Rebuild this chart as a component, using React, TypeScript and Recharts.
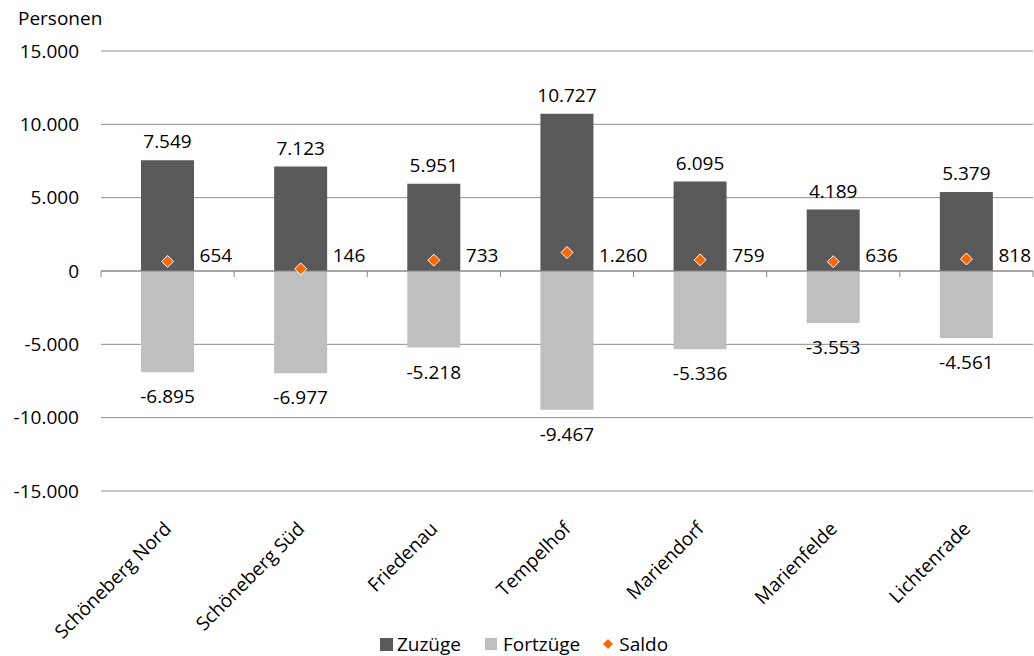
import React from 'react';
import {
  ComposedChart,
  Bar,
  Line,
  XAxis,
  YAxis,
  CartesianGrid,
  ReferenceLine,
  Legend,
  LabelList,
} from 'recharts';

// Wanderungen je Prognoseraum (Personen)
const districts = [
  'Schöneberg Nord',
  'Schöneberg Süd',
  'Friedenau',
  'Tempelhof',
  'Mariendorf',
  'Marienfelde',
  'Lichtenrade',
];
const zuzuege = [7549, 7123, 5951, 10727, 6095, 4189, 5379];
const fortzuege = [-6895, -6977, -5218, -9467, -5336, -3553, -4561];
const saldo = [654, 146, 733, 1260, 759, 636, 818];
const yTicks = [-15000, -10000, -5000, 0, 5000, 10000, 15000];

const data = districts.map((name, i) => ({
  name,
  zuzuege: zuzuege[i],
  fortzuege: fortzuege[i],
  saldo: saldo[i],
}));

const WIDTH = 1034;
const HEIGHT = 656;
const PLOT_TOP = 51;
const PLOT_HEIGHT = 440;
const Y_MIN = -15000;
const Y_MAX = 15000;
const FONT = "'Open Sans', 'Noto Sans', sans-serif";
const FONT_SIZE = 19;
const TEXT = '#000000';

const DARK = '#595959';
const LIGHT = '#bfbfbf';
const ORANGE = '#ff6600';

const fmt = (v: number) => {
  const s = Math.abs(Math.round(v))
    .toString()
    .replace(/\B(?=(\d{3})+(?!\d))/g, '.');
  return v < 0 ? '-' + s : s;
};

const pxPerUnit = PLOT_HEIGHT / (Y_MAX - Y_MIN);

const TopLabel = (props: any) => {
  const { x, y, width, height, value } = props;
  const top = Math.min(y, y + height);
  return (
    <text
      x={x + width / 2}
      y={top - 19}
      textAnchor="middle"
      dominantBaseline="central"
      fontFamily={FONT}
      fontSize={FONT_SIZE}
      fill={TEXT}
    >
      {fmt(value)}
    </text>
  );
};

const BottomLabel = (props: any) => {
  const { x, y, width, height, value } = props;
  const bottom = Math.max(y, y + height);
  return (
    <text
      x={x + width / 2}
      y={bottom + 24}
      textAnchor="middle"
      dominantBaseline="central"
      fontFamily={FONT}
      fontSize={FONT_SIZE}
      fill={TEXT}
    >
      {fmt(value)}
    </text>
  );
};

const SaldoLabel = (props: any) => {
  const { x, y, value } = props;
  // labels sit on a common line just above the zero axis
  const zeroY = y + value * pxPerUnit;
  return (
    <text
      x={x + 32}
      y={zeroY - 16}
      textAnchor="start"
      dominantBaseline="central"
      fontFamily={FONT}
      fontSize={FONT_SIZE}
      fill={TEXT}
    >
      {fmt(value)}
    </text>
  );
};

const Diamond = (props: any) => {
  const { cx, cy, index } = props;
  if (cx == null || cy == null) return <g key={index} />;
  const r = 6;
  return (
    <polygon
      key={index}
      points={`${cx},${cy - r} ${cx + r},${cy} ${cx},${cy + r} ${cx - r},${cy}`}
      fill={ORANGE}
      stroke="#ffffff"
      strokeWidth={1}
    />
  );
};

const ZeroLine = (props: any) => {
  const { x1, x2, y1 } = props;
  const n = districts.length;
  const step = (x2 - x1) / n;
  const ticks = [];
  for (let i = 0; i <= n; i++) {
    const tx = x1 + i * step;
    ticks.push(
      <line key={i} x1={tx} x2={tx} y1={y1} y2={y1 + 6} stroke="#868686" strokeWidth={1} />
    );
  }
  return (
    <g>
      <line x1={x1} x2={x2} y1={y1} y2={y1} stroke="#868686" strokeWidth={1} />
      {ticks}
    </g>
  );
};

const XTick = (props: any) => {
  const { x, y, payload } = props;
  return (
    <g transform={`translate(${x + 5},${y + 31})`}>
      <text
        x={0}
        y={0}
        textAnchor="end"
        transform="rotate(-45)"
        fontFamily={FONT}
        fontSize={FONT_SIZE}
        fill={TEXT}
      >
        {payload.value}
      </text>
    </g>
  );
};

const LegendContent = () => {
  const text: React.CSSProperties = {
    fontFamily: FONT,
    fontSize: FONT_SIZE,
    color: TEXT,
    lineHeight: '24px',
  };
  return (
    <div
      style={{
        height: 24,
        display: 'flex',
        alignItems: 'center',
        justifyContent: 'center',
        paddingLeft: 4,
      }}
    >
      <span style={{ width: 13, height: 13, background: DARK, display: 'inline-block', marginRight: 4 }} />
      <span style={{ ...text, marginRight: 24 }}>Zuzüge</span>
      <span style={{ width: 12, height: 12, background: LIGHT, display: 'inline-block', marginRight: 6 }} />
      <span style={{ ...text, marginRight: 22 }}>Fortzüge</span>
      <svg width={12} height={12} style={{ marginRight: 5 }}>
        <polygon points="6,1 11,6 6,11 1,6" fill={ORANGE} />
      </svg>
      <span style={text}>Saldo</span>
    </div>
  );
};

export default function App() {
  return (
    <div style={{ position: 'absolute', left: 0, top: 0, width: WIDTH, height: HEIGHT, background: '#fff' }}>
      <div
        style={{
          position: 'absolute',
          left: 18,
          top: 5,
          fontFamily: FONT,
          fontSize: FONT_SIZE,
          color: TEXT,
        }}
      >
        Personen
      </div>
      <ComposedChart
        width={WIDTH}
        height={HEIGHT}
        data={data}
        stackOffset="sign"
        barCategoryGap={0}
        margin={{ top: PLOT_TOP, right: 1, bottom: 0, left: 11 }}
      >
        <CartesianGrid vertical={false} stroke="#8c8c8c" strokeWidth={1} />
        <XAxis
          dataKey="name"
          axisLine={false}
          tickLine={false}
          height={141}
          interval={0}
          tick={<XTick />}
        />
        <YAxis
          type="number"
          domain={[Y_MIN, Y_MAX]}
          ticks={yTicks}
          tickFormatter={fmt}
          width={90}
          axisLine={false}
          tickLine={false}
          tickSize={0}
          tickMargin={22}
          tick={{ fontFamily: FONT, fontSize: FONT_SIZE, fill: TEXT }}
        />
        <ReferenceLine y={0} shape={<ZeroLine />} ifOverflow="visible" />
        <Bar dataKey="zuzuege" name="Zuzüge" stackId="s" fill={DARK} barSize={53} isAnimationActive={false}>
          <LabelList dataKey="zuzuege" content={<TopLabel />} />
        </Bar>
        <Bar dataKey="fortzuege" name="Fortzüge" stackId="s" fill={LIGHT} barSize={53} isAnimationActive={false}>
          <LabelList dataKey="fortzuege" content={<BottomLabel />} />
        </Bar>
        <Line
          dataKey="saldo"
          name="Saldo"
          stroke="none"
          dot={<Diamond />}
          activeDot={false}
          isAnimationActive={false}
        >
          <LabelList dataKey="saldo" content={<SaldoLabel />} />
        </Line>
        <Legend verticalAlign="bottom" content={<LegendContent />} />
      </ComposedChart>
    </div>
  );
}
